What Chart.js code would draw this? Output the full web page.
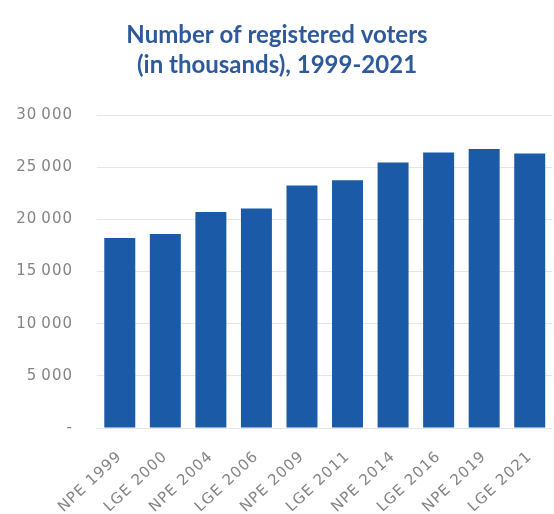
<!DOCTYPE html>
<html>
<head>
<meta charset="utf-8">
<script src="https://cdn.jsdelivr.net/npm/chart.js@4.4.1/dist/chart.umd.min.js"></script>
<style>
  html, body { margin: 0; padding: 0; background: #fff; }
  #wrap { width: 554px; height: 514px; position: relative; }
</style>
</head>
<body>
<div id="wrap"><canvas id="bar-chart"></canvas></div>
<script>
// registered voters, thousands
var elections = ["NPE 1999", "LGE 2000", "NPE 2004", "LGE 2006", "NPE 2009",
                 "LGE 2011", "NPE 2014", "LGE 2016", "NPE 2019", "LGE 2021"];
var voters = [18200, 18600, 20700, 21050, 23250, 23750, 25450, 26400, 26750, 26300];
var yTicks = [0, 5000, 10000, 15000, 20000, 25000, 30000];

function fmt(v) {
  if (v === 0) return "-";
  // thin space as thousands separator
  return String(v).replace(/\B(?=(\d{3})+(?!\d))/g, "\u2009");
}

// tick labels are drawn after the bars (ticks.z = 1), widen them a bit there
var spacing = {
  id: 'spacing',
  afterDatasetsDraw: function (chart) { chart.ctx.letterSpacing = "1px"; },
  afterDraw: function (chart) { chart.ctx.letterSpacing = "0px"; }
};

var ctx = document.getElementById('bar-chart');
var myChart = new Chart(ctx, {
  type: 'bar',
  data: {
    labels: elections,
    datasets: [{
      data: voters,
      backgroundColor: "#1a5aa6",
      borderWidth: 0,
      categoryPercentage: 0.68,
      barPercentage: 1
    }]
  },
  plugins: [spacing],
  options: {
    responsive: true,
    maintainAspectRatio: false,
    animation: false,
    layout: { padding: { left: 0, right: 0, top: 0, bottom: 0 } },
    plugins: {
      legend: { display: false },
      tooltip: { enabled: false },
      title: {
        display: true,
        text: ["Number of registered voters", "(in thousands), 1999-2021"],
        color: "#2e5a9c",
        font: { family: "Lato", size: 24, weight: "bold", lineHeight: 1.25 },
        padding: { top: 20, bottom: 35 }
      }
    },
    scales: {
      y: {
        min: 0,
        max: 30000,
        afterBuildTicks: function (scale) {
          scale.ticks = yTicks.map(function (v) { return { value: v }; });
        },
        afterFit: function (scale) { scale.width = 97; },
        border: { display: false },
        grid: { color: "#e6e6e6", drawTicks: false, lineWidth: 1 },
        ticks: {
          z: 1,
          padding: 24,
          color: "#848484",
          font: { family: "DejaVu Sans", size: 15 },
          callback: function (v) { return fmt(v); }
        }
      },
      x: {
        afterFit: function (scale) { scale.height = 86; },
        border: { display: false },
        grid: { display: false },
        ticks: {
          z: 1,
          autoSkip: false,
          minRotation: 43,
          maxRotation: 43,
          padding: 12,
          color: "#848484",
          font: { family: "DejaVu Sans", size: 15 }
        }
      }
    }
  }
});
</script>
</body>
</html>
